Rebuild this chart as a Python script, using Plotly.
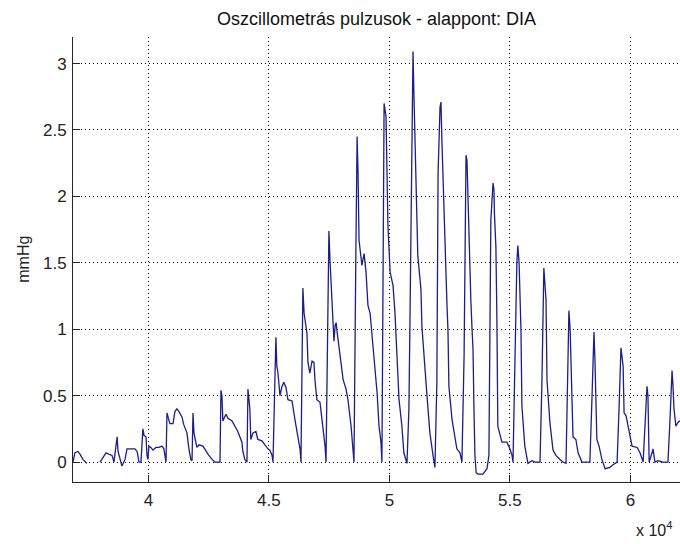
import plotly.graph_objects as go

# Oscillometric pulse trace (sample index vs. pressure above the DIA baseline, mmHg)
samples = [
    36870, 36950, 37070, 37160, 37280, 37450, None,
    37990, 38240, 38350, 38490, 38570, 38650, 38700, 38740, 38820, 38900, 39030,
    39110, 39440, 39530, 39610, 39690, 39770, 39820, 39900, 39940, 39980, 40020,
    40100, 40190, 40310, 40440, 40560, 40640, 40730, 40770, 40890, 41020, 41100,
    41180, 41270, 41390, 41470, 41600, 41680, 41760, 41810, 41850, 41890, 42010,
    42100, 42260, 42370, 42470, 42640, 42760, 42970, 43010, 43050, 43090, 43220,
    43300, 43470, 43590, 43710, 43880, 43920, 44000, 44090, 44130, 44210, 44250,
    44340, 44460, 44540, 44710, 44830, 44960, 45040, 45130, 45170,
    45250, 45290, 45330, 45370, 45460, 45540, 45620, 45710, 45790, 45960, 46080,
    46170, 46290, 46330,
    46370, 46410, 46460, 46580, 46620, 46700, 46790, 46870, 46910, 46990, 47120,
    47240, 47330, 47370,
    47450, 47490, 47540, 47620, 47700, 47750, 47790, 47830, 47950, 48080, 48200,
    48280, 48410, 48490, 48530,
    48610, 48660, 48700, 48740, 48860, 48950, 49030, 49110, 49200, 49320, 49490,
    49570, 49650, 49690,
    49740, 49780, 49860, 49900, 49940, 50030, 50150, 50230, 50320, 50400, 50520,
    50600, 50730,
    50810, 50850, 50890, 50940, 50980, 51020, 51100, 51180, 51310, 51350, 51560,
    51680, 51810, 51890,
    51970, 52020, 52100, 52140, 52180, 52260, 52390, 52430, 52470, 52600, 52720,
    52800, 52930, 53010,
    53100, 53140, 53180, 53220, 53300, 53380, 53430, 53470, 53510, 53550, 53600,
    53680, 53880, 54050, 54130,
    54170, 54210, 54300, 54340, 54360, 54420, 54460, 54480, 54500, 54670, 54880,
    55000, 55090, 55130,
    55210, 55290, 55330, 55380, 55460, 55480, 55500, 55620, 55710, 55750, 55920,
    56040, 56250,
    56330, 56410, 56450, 56500, 56540, 56660, 56790, 56910, 57080, 57200, 57330,
    57370, 57450, 57500, 57580, 57620, 57740, 57830, 57990, 58320,
    58410, 58490, 58530, 58610, 58700, 58820, 58950, 59150, 59280, 59450,
    59530, 59610, 59700, 59740, 59820, 59900, 60070, 60280, 60400, 60530,
    60610, 60690, 60730, 60780, 60900, 60940, 61020, 61150, 61350, 61560,
    61640, 61730, 61770, 61810, 61890, 61980, 62060,
]

mmhg = [
    0.00, 0.07, 0.08, 0.06, 0.02, -0.01, None,
    0.00, 0.07, 0.06, 0.05, 0.00, 0.11, 0.19, 0.08, 0.02, -0.03, 0.02,
    0.10, 0.10, 0.08, 0.00, 0.00, 0.25, 0.20, 0.19, 0.05, 0.02, 0.12,
    0.11, 0.09, 0.11, 0.11, 0.12, 0.10, 0.00, 0.37, 0.29, 0.29, 0.38,
    0.40, 0.38, 0.34, 0.28, 0.22, 0.10, 0.02, 0.01, 0.37, 0.22, 0.11,
    0.13, 0.12, 0.09, 0.06, 0.02, 0.00, 0.00, 0.54, 0.50, 0.31, 0.36,
    0.33, 0.31, 0.27, 0.23, 0.15, 0.08, 0.02, 0.00, 0.55, 0.40, 0.17,
    0.22, 0.23, 0.17, 0.16, 0.13, 0.10, 0.09, 0.05, 0.00,
    0.60, 0.94, 0.72, 0.68, 0.50, 0.57, 0.60, 0.56, 0.47, 0.46, 0.32,
    0.22, 0.10, 0.00,
    0.70, 1.31, 1.12, 0.97, 0.75, 0.67, 0.76, 0.75, 0.62, 0.47, 0.45,
    0.27, 0.12, 0.00,
    1.00, 1.74, 1.50, 1.22, 0.91, 1.03, 1.05, 0.98, 0.80, 0.62, 0.55,
    0.47, 0.27, 0.12, 0.00,
    1.60, 2.45, 2.17, 1.67, 1.48, 1.57, 1.43, 1.18, 1.12, 0.85, 0.52,
    0.27, 0.15, 0.00,
    1.80, 2.70, 2.60, 2.30, 1.78, 1.43, 1.33, 1.13, 0.78, 0.47, 0.27,
    0.07, -0.01,
    0.40, 1.00, 1.73, 2.90, 3.09, 2.75, 2.17, 1.55, 1.30, 1.02, 0.50,
    0.22, 0.05, -0.04,
    0.60, 2.17, 2.67, 2.71, 2.42, 1.90, 1.18, 1.00, 0.57, 0.32, 0.17,
    0.10, 0.07, 0.00,
    0.80, 1.80, 2.31, 2.27, 1.67, 1.22, 1.00, 0.85, 0.40, 0.05, -0.08,
    -0.09, -0.09, -0.05, 0.05,
    0.90, 1.82, 2.10, 2.05, 1.87, 1.62, 1.10, 0.60, 0.27, 0.15, 0.15,
    0.10, 0.05, 0.00,
    0.80, 1.50, 1.63, 1.51, 1.00, 0.77, 0.42, 0.12, 0.02, -0.01, 0.01,
    0.00, 0.00,
    0.60, 1.46, 1.30, 1.22, 0.62, 0.30, 0.09, 0.05, 0.02, 0.00, -0.01,
    0.50, 1.14, 1.00, 0.47, 0.19, 0.17, 0.07, 0.00, 0.00,
    0.50, 0.98, 0.77, 0.17, 0.12, 0.02, -0.05, -0.04, -0.02, 0.00,
    0.40, 0.86, 0.72, 0.37, 0.35, 0.27, 0.12, 0.11, 0.07, 0.00,
    0.30, 0.57, 0.50, 0.00, 0.07, 0.10, 0.00, 0.01, 0.00, 0.00,
    0.30, 0.69, 0.57, 0.40, 0.27, 0.30, 0.31,
]

x_ticks = [40000, 45000, 50000, 55000, 60000]
x_tick_labels = ["4", "4.5", "5", "5.5", "6"]
y_ticks = [0, 0.5, 1, 1.5, 2, 2.5, 3]
y_tick_labels = ["0", "0.5", "1", "1.5", "2", "2.5", "3"]

title_text = "Oszcillometrás pulzusok - alappont: DIA"
y_label = "mmHg"
x_scale = "x 10<sup>4</sup>"

FONT = "Liberation Sans, Arial, sans-serif"
AXIS_COLOR = "#262626"

fig = go.Figure()
fig.add_trace(go.Scatter(
    x=samples, y=mmhg, mode="lines",
    line=dict(color="#1d1d88", width=1.3),
    connectgaps=False, hoverinfo="skip", showlegend=False,
))

axis_common = dict(
    showline=True, linecolor=AXIS_COLOR, linewidth=1, mirror=False,
    ticks="inside", ticklen=7, tickcolor=AXIS_COLOR, tickwidth=1,
    showgrid=True, gridcolor="#000000", gridwidth=1, griddash="1px,3px",
    zeroline=False, tickfont=dict(family=FONT, size=17, color="#222222"),
)

fig.update_xaxes(range=[36870, 62060], tickvals=x_ticks, ticktext=x_tick_labels,
                 ticklabelstandoff=3, **axis_common)
fig.update_yaxes(range=[-0.15, 3.2], tickvals=y_ticks, ticktext=y_tick_labels,
                 ticklabelstandoff=2, **axis_common)

fig.update_layout(
    width=680, height=544,
    margin=dict(l=73, r=0, t=37, b=62),
    paper_bgcolor="white", plot_bgcolor="white",
    title=dict(text=title_text, x=0.5, xref="paper", xanchor="center",
               y=1 - 19 / 544, yref="container", yanchor="middle",
               font=dict(family=FONT, size=18, color="#111111")),
    annotations=[
        dict(text=y_label, xref="paper", yref="paper", x=-0.082, y=0.5,
             xanchor="center", yanchor="middle", textangle=-90, showarrow=False,
             font=dict(family=FONT, size=16, color="#222222")),
        dict(text=x_scale, xref="paper", yref="paper", x=0.925, y=-0.105,
             xanchor="left", yanchor="middle", showarrow=False,
             font=dict(family=FONT, size=16, color="#222222")),
    ],
)

fig.write_html("out.html")
